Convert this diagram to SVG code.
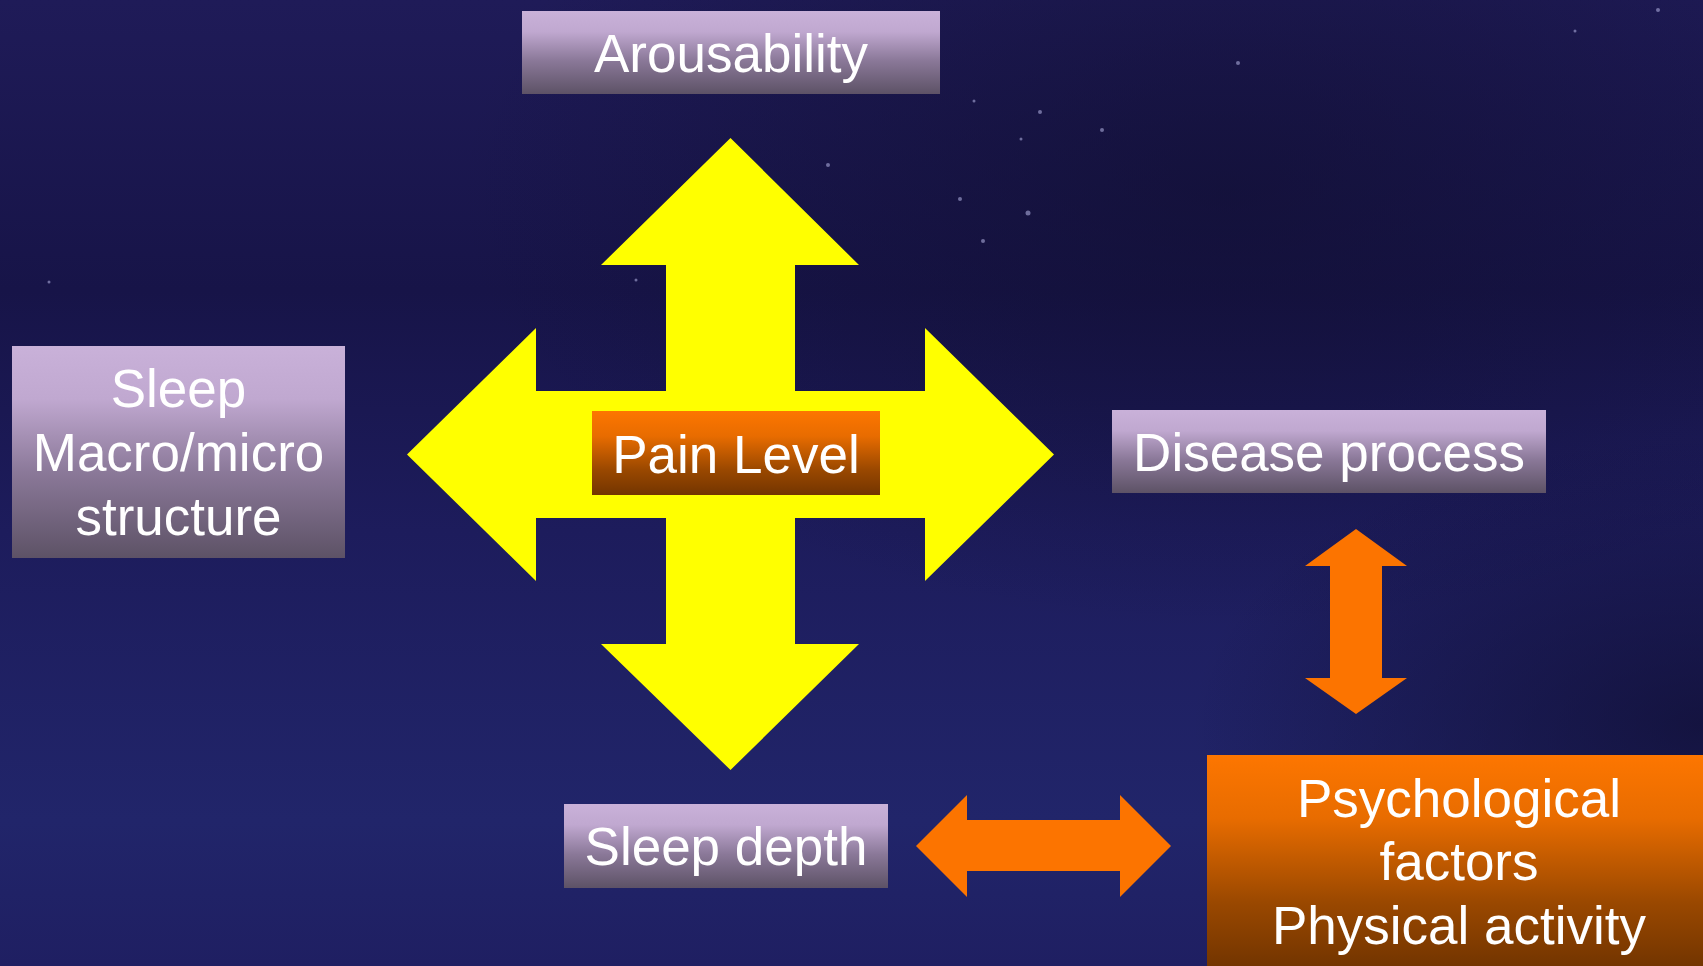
<svg xmlns="http://www.w3.org/2000/svg" width="1703" height="966" viewBox="0 0 1703 966">
<style>
.lbl{font-family:"Liberation Sans",Arial,sans-serif;font-size:53px;fill:#ffffff;text-anchor:middle}
.lav{fill:url(#lavGrad)}
.org{fill:url(#orgGrad)}
.star{fill:#b8b8e8;opacity:0.55}
</style>
<defs>
<linearGradient id="bgGrad" x1="0" y1="0" x2="0" y2="1">
<stop offset="0" stop-color="#1f1b58"/>
<stop offset="0.3" stop-color="#171448"/>
<stop offset="0.55" stop-color="#1d1c5c"/>
<stop offset="0.85" stop-color="#21256a"/>
<stop offset="1" stop-color="#1f1f62"/>
</linearGradient>
<radialGradient id="darkR" cx="0.72" cy="0.2" r="0.45">
<stop offset="0" stop-color="#100e30" stop-opacity="0.6"/>
<stop offset="1" stop-color="#100e30" stop-opacity="0"/>
</radialGradient>
<radialGradient id="darkBR" cx="1" cy="0.75" r="0.3">
<stop offset="0" stop-color="#0f0d30" stop-opacity="0.7"/>
<stop offset="1" stop-color="#0f0d30" stop-opacity="0"/>
</radialGradient>
<linearGradient id="lavGrad" x1="0" y1="0" x2="0" y2="1">
<stop offset="0" stop-color="#c9b1d9"/>
<stop offset="0.25" stop-color="#c0a8d0"/>
<stop offset="0.6" stop-color="#8a7898"/>
<stop offset="1" stop-color="#5d5266"/>
</linearGradient>
<linearGradient id="orgGrad" x1="0" y1="0" x2="0" y2="1">
<stop offset="0" stop-color="#fd7600"/>
<stop offset="0.3" stop-color="#e86c00"/>
<stop offset="0.7" stop-color="#9a4800"/>
<stop offset="1" stop-color="#733500"/>
</linearGradient>
</defs>
<rect x="0" y="0" width="1703" height="966" fill="url(#bgGrad)"/>
<rect x="0" y="0" width="1703" height="966" fill="url(#darkR)"/>
<rect x="0" y="0" width="1703" height="966" fill="url(#darkBR)"/>
<g id="stars">
<circle class="star" cx="1658" cy="10" r="2"/>
<circle class="star" cx="1575" cy="31" r="1.5"/>
<circle class="star" cx="1238" cy="63" r="2"/>
<circle class="star" cx="974" cy="101" r="1.5"/>
<circle class="star" cx="1040" cy="112" r="2"/>
<circle class="star" cx="1102" cy="130" r="2"/>
<circle class="star" cx="1021" cy="139" r="1.5"/>
<circle class="star" cx="828" cy="165" r="2"/>
<circle class="star" cx="960" cy="199" r="2"/>
<circle class="star" cx="1028" cy="213" r="2.5"/>
<circle class="star" cx="983" cy="241" r="2"/>
<circle class="star" cx="49" cy="282" r="1.5"/>
<circle class="star" cx="636" cy="280" r="1.5"/>
</g>
<g id="connectors">
<polygon id="yellow-cross" fill="#ffff00" points="730.5,138 859,265 795,265 795,391 925,391 925,328 1054,454.5 925,581 925,518 795,518 795,644 859,644 730.5,770 601,644 666,644 666,518 536,518 536,581 407,454.5 536,328 536,391 666,391 666,265 601,265"/>
<polygon id="vert-orange" fill="#fc7400" points="1356,529 1407,566 1382,566 1382,678 1407,678 1356,714 1305,678 1330,678 1330,566 1305,566"/>
<polygon id="horiz-orange" fill="#fc7400" points="916,846 967,795 967,820 1120,820 1120,795 1171,846 1120,897 1120,871 967,871 967,897"/>
</g>
<g id="arousability">
<rect class="lav" x="522" y="11" width="418" height="83"/>
<text class="lbl" x="731" y="72">Arousability</text>
</g>
<g id="sleep-structure">
<rect class="lav" x="12" y="346" width="333" height="212"/>
<text class="lbl" x="178.5" y="407">Sleep</text>
<text class="lbl" x="178.5" y="471">Macro/micro</text>
<text class="lbl" x="178.5" y="535">structure</text>
</g>
<g id="disease-process">
<rect class="lav" x="1112" y="410" width="434" height="83"/>
<text class="lbl" x="1329" y="471">Disease process</text>
</g>
<g id="sleep-depth">
<rect class="lav" x="564" y="804" width="324" height="84"/>
<text class="lbl" x="726" y="865">Sleep depth</text>
</g>
<g id="pain-level">
<rect class="org" x="592" y="411" width="288" height="84"/>
<text class="lbl" x="736" y="473">Pain Level</text>
</g>
<g id="psychological">
<rect class="org" x="1207" y="755" width="496" height="211"/>
<text class="lbl" x="1459" y="817">Psychological</text>
<text class="lbl" x="1459" y="880">factors</text>
<text class="lbl" x="1459" y="944">Physical activity</text>
</g>
</svg>
